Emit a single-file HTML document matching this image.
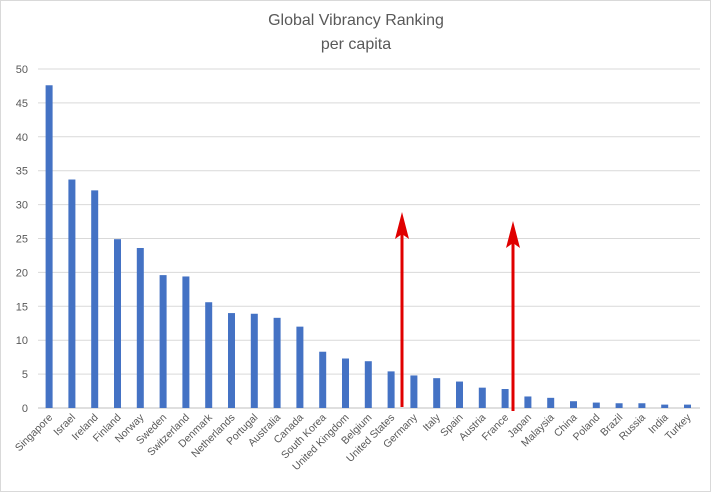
<!DOCTYPE html>
<html><head><meta charset="utf-8"><style>
body{margin:0;background:#fff;}
svg{display:block;font-family:"Liberation Sans",sans-serif;}
</style></head><body>
<div style="position:absolute;left:0;top:0;width:709px;height:490px;border:1px solid #d9d9d9;"></div>
<svg id="chart" width="711" height="492" style="position:absolute;left:0;top:0">
<text x="356" y="25" text-anchor="middle" font-size="16" fill="#595959">Global Vibrancy Ranking</text>
<text x="356" y="49" text-anchor="middle" font-size="16" fill="#595959">per capita</text>
</svg>
<script>
const categories=["Singapore","Israel","Ireland","Finland","Norway","Sweden","Switzerland","Denmark","Netherlands","Portugal","Australia","Canada","South Korea","United Kingdom","Belgium","United States","Germany","Italy","Spain","Austria","France","Japan","Malaysia","China","Poland","Brazil","Russia","India","Turkey"];
const values=[47.6,33.7,32.1,24.9,23.6,19.6,19.4,15.6,14.0,13.9,13.3,12.0,8.3,7.3,6.9,5.4,4.8,4.4,3.9,3.0,2.8,1.7,1.5,1.0,0.8,0.7,0.7,0.5,0.5];
const yTicks=[0,5,10,15,20,25,30,35,40,45,50];
const svg=document.getElementById('chart');
const NS='http://www.w3.org/2000/svg';
const y0=408,y1=69,x0=38,step=22.8;
const yS=v=>y0-(v/50)*(y0-y1);
const xS=i=>x0+step/2+i*step-0.3;
function mk(t,a){const e=document.createElementNS(NS,t);for(const k in a)e.setAttribute(k,a[k]);svg.appendChild(e);return e;}
yTicks.forEach(t=>{
  const g=mk('line',{x1:x0,x2:700,y1:yS(t),y2:yS(t),stroke:t===0?'#bfbfbf':'#d9d9d9','stroke-width':1});
  
  
  const l=mk('text',{x:28,y:yS(t)+4,'text-anchor':'end','font-size':11,fill:'#595959'});
  l.textContent=t;
  
  
});
categories.forEach((c,i)=>{
  const x=xS(i);
  const b=mk('rect',{x:x-3.5,y:yS(values[i]),width:7,height:y0-yS(values[i]),fill:'#4472c4'});
  
  
  const t=mk('text',{x:x+4,y:418,'text-anchor':'end','font-size':10.5,fill:'#595959',transform:`rotate(-45 ${x+4} 418)`});
  t.textContent=c;
  
  
});
function arrow(x,yb,yt,name){
  const g=document.createElementNS(NS,'g');svg.appendChild(g);
  
  
  const s=document.createElementNS(NS,'line');
  [['x1',x],['x2',x],['y1',yb],['y2',yt+20],['stroke','#e00000'],['stroke-width',3]].forEach(([k,v])=>s.setAttribute(k,v));
  g.appendChild(s);
  const p=document.createElementNS(NS,'polygon');
  p.setAttribute('points',`${x},${yt} ${x-7},${yt+27} ${x},${yt+22} ${x+7},${yt+27}`);
  p.setAttribute('fill','#e00000');
  g.appendChild(p);
}
arrow(402,407,212,'red-arrow-united-states');
arrow(513,411,221,'red-arrow-france');
</script>
</body></html>
